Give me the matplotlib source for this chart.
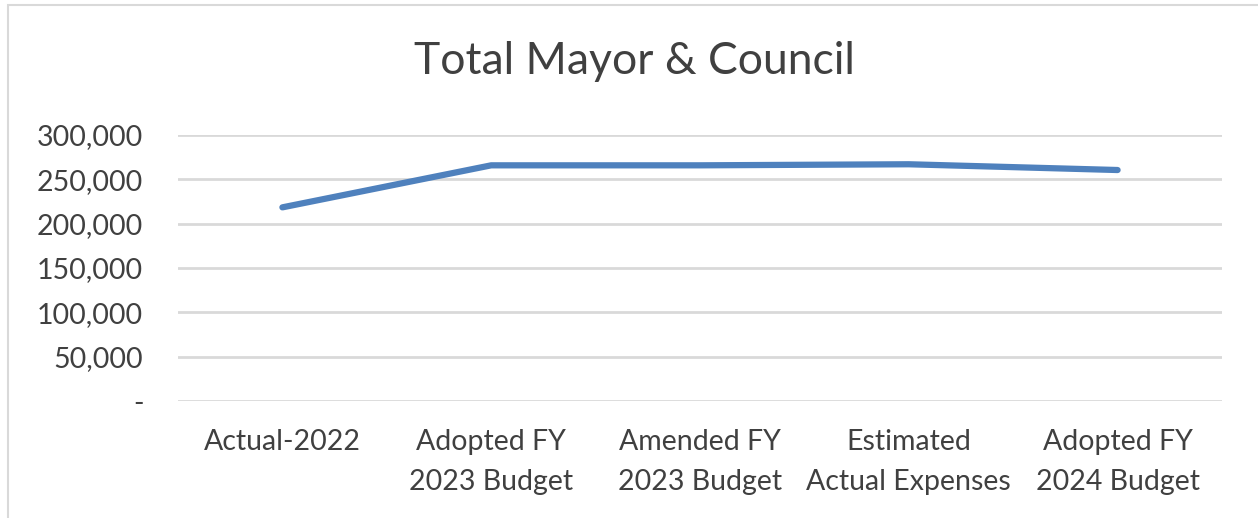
import matplotlib
matplotlib.use("Agg")
import matplotlib.pyplot as plt
from matplotlib.patches import Rectangle
from matplotlib.ticker import FuncFormatter

categories = ["Actual-2022", "Adopted FY\n2023 Budget", "Amended FY\n2023 Budget",
              "Estimated\nActual Expenses", "Adopted FY\n2024 Budget"]
values = [218400, 265800, 265800, 267000, 260500]
yticks = [0, 50000, 100000, 150000, 200000, 250000, 300000]

plt.rcParams['font.family'] = ['Lato', 'DejaVu Sans']
fig = plt.figure(figsize=(12.58, 5.18), dpi=100)
fig.patches.append(Rectangle((8/1258, -0.1), 1.2, 1 - 5/518 + 0.1, transform=fig.transFigure,
                             fill=False, edgecolor='#d9d9d9', linewidth=1.5))
ax = fig.add_axes([178/1258, 1-401/518, (1222-178)/1258, (401-135)/518])
x = list(range(len(categories)))
ax.plot(x, values, color='#4f81bd', linewidth=4.5, solid_capstyle='round', solid_joinstyle='round', zorder=3)
ax.set_xlim(-0.5, len(categories)-0.5)
ax.set_ylim(0, 300000)
ax.set_yticks(yticks)
ax.yaxis.set_major_formatter(FuncFormatter(lambda v, p: '-' if v == 0 else f"{int(v):,}"))
ax.set_xticks(x)
ax.set_xticklabels(categories, linespacing=1.65)
ax.grid(axis='y', color='#d9d9d9', linewidth=2)
ax.set_axisbelow(True)
for s in ax.spines.values():
    s.set_visible(False)
ax.tick_params(axis='both', length=0, labelsize=20.5, colors='#404040')
ax.tick_params(axis='y', pad=25)
ax.tick_params(axis='x', pad=20.5)
fig.text(634/1258, 1-62/518, "Total Mayor & Council", ha='center', va='center', fontsize=32, color='#404040')
fig.savefig("out.png", dpi=100)
